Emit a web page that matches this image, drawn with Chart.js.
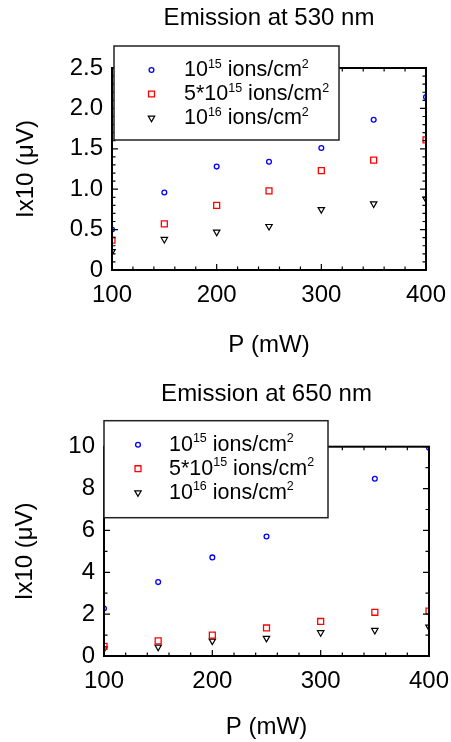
<!DOCTYPE html>
<html>
<head>
<meta charset="utf-8">
<script src="https://cdn.jsdelivr.net/npm/chart.js@4.4.0/dist/chart.umd.min.js"></script>
<style>
  html, body { margin: 0; padding: 0; background: #fff; }
  canvas { display: block; }
</style>
</head>
<body>
<canvas id="chart530" width="451" height="371"></canvas>
<canvas id="chart650" width="451" height="371"></canvas>
<script>
// values
const power = [100, 150, 200, 250, 300, 350, 400];
const seriesNames = ['10^15 ions/cm^2', '5*10^15 ions/cm^2', '10^16 ions/cm^2'];

const em530_1e15 = [0.50, 0.96, 1.28, 1.34, 1.51, 1.86, 2.14];
const em530_5e15 = [0.37, 0.57, 0.80, 0.98, 1.23, 1.36, 1.61];
const em530_1e16 = [0.23, 0.38, 0.47, 0.54, 0.75, 0.82, 0.88];

const em650_1e15 = [2.27, 3.53, 4.71, 5.71, 7.00, 8.47, 9.95];
const em650_5e15 = [0.46, 0.72, 1.00, 1.34, 1.65, 2.09, 2.15];
const em650_1e16 = [0.35, 0.43, 0.72, 0.85, 1.12, 1.23, 1.39];

const xTickLabels = ['100', '200', '300', '400'];
const yTickLabels530 = ['0', '0.5', '1.0', '1.5', '2.0', '2.5'];
const yTickLabels650 = ['0', '2', '4', '6', '8', '10'];

const FONT = "'Liberation Sans', Arial, sans-serif";

// marker looks for the three doses
const markers = [
  { pointStyle: 'circle', radius: 2.4, color: '#0000ff', rotation: 0, width: 1.3 },
  { pointStyle: 'rect', radius: 4.2, color: '#ff0000', rotation: 0, width: 1.3 },
  { pointStyle: 'triangle', radius: 3.7, color: '#000000', rotation: 180, width: 1.2 },
];

function tickList(min, max, step) {
  const n = Math.round((max - min) / step);
  const out = [];
  for (let i = 0; i <= n; i++) out.push(+(min + i * step).toFixed(6));
  return out;
}

function isMajor(v, majors) {
  return majors.some(m => Math.abs(m - v) < 1e-6);
}

// frame with inward ticks on all sides + boxed legend on top of the data
const frameAndLegend = {
  id: 'frameAndLegend',
  afterDatasetsDraw(chart, args, o) {
    const { ctx, chartArea: a } = chart;
    const xs = chart.scales.x, ys = chart.scales.y;
    ctx.save();
    ctx.strokeStyle = '#000';
    ctx.lineWidth = 1.2;
    ctx.beginPath();
    xs.ticks.forEach(t => {
      const px = xs.getPixelForValue(t.value);
      const len = isMajor(t.value, o.xMajors) ? 6 : 3.5;
      ctx.moveTo(px, a.bottom); ctx.lineTo(px, a.bottom - len);
      ctx.moveTo(px, a.top); ctx.lineTo(px, a.top + len);
    });
    ys.ticks.forEach(t => {
      const py = ys.getPixelForValue(t.value);
      const len = isMajor(t.value, o.yMajors) ? 6 : 3.5;
      ctx.moveTo(a.left, py); ctx.lineTo(a.left + len, py);
      ctx.moveTo(a.right, py); ctx.lineTo(a.right - len, py);
    });
    ctx.stroke();
    ctx.lineWidth = 2;
    ctx.strokeRect(a.left, a.top, a.right - a.left, a.bottom - a.top);

    // legend
    const L = o.legend;
    const bx = a.left + L.dx, by = a.top + L.dy;
    ctx.fillStyle = '#fff';
    ctx.fillRect(bx, by, L.w, L.h);
    ctx.lineWidth = 1.5;
    ctx.strokeStyle = '#222';
    ctx.strokeRect(bx, by, L.w, L.h);

    chart.data.datasets.forEach((ds, i) => {
      const ry = by + 24 + i * 24;
      ctx.strokeStyle = ds.borderColor;
      ctx.fillStyle = 'rgba(0,0,0,0)';
      ctx.lineWidth = ds.borderWidth;
      Chart.helpers.drawPoint(ctx, {
        pointStyle: ds.pointStyle, radius: ds.pointRadius,
        rotation: ds.pointRotation, borderWidth: ds.borderWidth
      }, bx + L.markerX, ry);

      // label with superscripts
      const parts = ds.label.split(/\^(\d+)/);
      let tx = bx + L.textX;
      const base = ry + 6;
      ctx.fillStyle = '#000';
      ctx.textBaseline = 'alphabetic';
      ctx.textAlign = 'left';
      parts.forEach((p, k) => {
        const sup = k % 2 === 1;
        ctx.font = (sup ? 12.5 : 21.5) + 'px ' + FONT;
        ctx.fillText(p, tx, sup ? base - 8.5 : base);
        tx += ctx.measureText(p).width;
      });
    });
    ctx.restore();
  }
};

function makeChart(id, cfg) {
  const xMajors = xTickLabels.map(Number);
  const yMajors = cfg.yLabels.map(Number);
  const yMin = yMajors[0], yMax = yMajors[yMajors.length - 1];

  const datasets = cfg.series.map((vals, i) => ({
    label: seriesNames[i],
    data: power.map((p, k) => ({ x: p, y: vals[k] })),
    showLine: false,
    pointStyle: markers[i].pointStyle,
    pointRadius: markers[i].radius,
    pointRotation: markers[i].rotation,
    borderColor: markers[i].color,
    backgroundColor: 'rgba(0,0,0,0)',
    borderWidth: markers[i].width,
    clip: 0,
  }));

  const tickFont = { family: FONT, size: 24 };

  return new Chart(document.getElementById(id), {
    type: 'scatter',
    data: { datasets },
    options: {
      responsive: false,
      animation: false,
      events: [],
      layout: { padding: { left: 0, right: cfg.padRight, top: 0, bottom: 0 } },
      scales: {
        x: {
          type: 'linear',
          min: 100,
          max: 400,
          afterBuildTicks: s => { s.ticks = tickList(100, 400, 20).map(v => ({ value: v })); },
          afterFit: s => {
            s.height = cfg.xAxisHeight;
            s.paddingLeft = 0;
            s.paddingRight = 0;
          },
          grid: { display: false, drawTicks: false },
          border: { display: false },
          ticks: {
            autoSkip: false,
            maxRotation: 0,
            padding: 11,
            color: '#000',
            font: tickFont,
            callback: v => isMajor(v, xMajors) ? xTickLabels[xMajors.findIndex(m => Math.abs(m - v) < 1e-6)] : ''
          },
          title: {
            display: true,
            text: 'P (mW)',
            color: '#000',
            font: tickFont,
            padding: { top: 0, bottom: cfg.xTitlePad }
          }
        },
        y: {
          type: 'linear',
          min: yMin,
          max: yMax,
          afterBuildTicks: s => { s.ticks = tickList(yMin, yMax, cfg.yMinor).map(v => ({ value: v })); },
          afterFit: s => { s.width = cfg.yAxisWidth; },
          grid: { display: false, drawTicks: false },
          border: { display: false },
          ticks: {
            autoSkip: false,
            padding: 9,
            color: '#000',
            font: tickFont,
            callback: v => isMajor(v, yMajors) ? cfg.yLabels[yMajors.findIndex(m => Math.abs(m - v) < 1e-6)] : ''
          },
          title: {
            display: true,
            text: 'Ix10 (\u03BCV)',
            color: '#000',
            font: tickFont,
            padding: { top: cfg.yTitlePad, bottom: 0 }
          }
        }
      },
      plugins: {
        legend: { display: false },
        tooltip: { enabled: false },
        title: {
          display: true,
          text: cfg.title,
          fullSize: false,
          color: '#000',
          font: { family: FONT, size: 24, weight: 'normal' },
          padding: { top: cfg.titleTop, bottom: cfg.titleBottom }
        },
        frameAndLegend: { xMajors, yMajors, legend: cfg.legend }
      }
    },
    plugins: [frameAndLegend]
  });
}

makeChart('chart530', {
  title: 'Emission at 530 nm',
  series: [em530_1e15, em530_5e15, em530_1e16],
  yLabels: yTickLabels530,
  yMinor: 0.1,
  padRight: 25,
  yAxisWidth: 112,
  xAxisHeight: 101,
  xTitlePad: 11.6,
  yTitlePad: 11.6,
  titleTop: 3.6,
  titleBottom: 35.6,
  legend: { dx: 2, dy: -22, w: 225, h: 94, markerX: 37.5, textX: 70 }
});

makeChart('chart650', {
  title: 'Emission at 650 nm',
  series: [em650_1e15, em650_5e15, em650_1e16],
  yLabels: yTickLabels650,
  yMinor: 1,
  padRight: 22,
  yAxisWidth: 104,
  xAxisHeight: 86,
  xTitlePad: 0.6,
  yTitlePad: 10.6,
  titleTop: 8.6,
  titleBottom: 38.3,
  legend: { dx: 0, dy: -26, w: 224, h: 97, markerX: 34, textX: 65 }
});
</script>
</body>
</html>
